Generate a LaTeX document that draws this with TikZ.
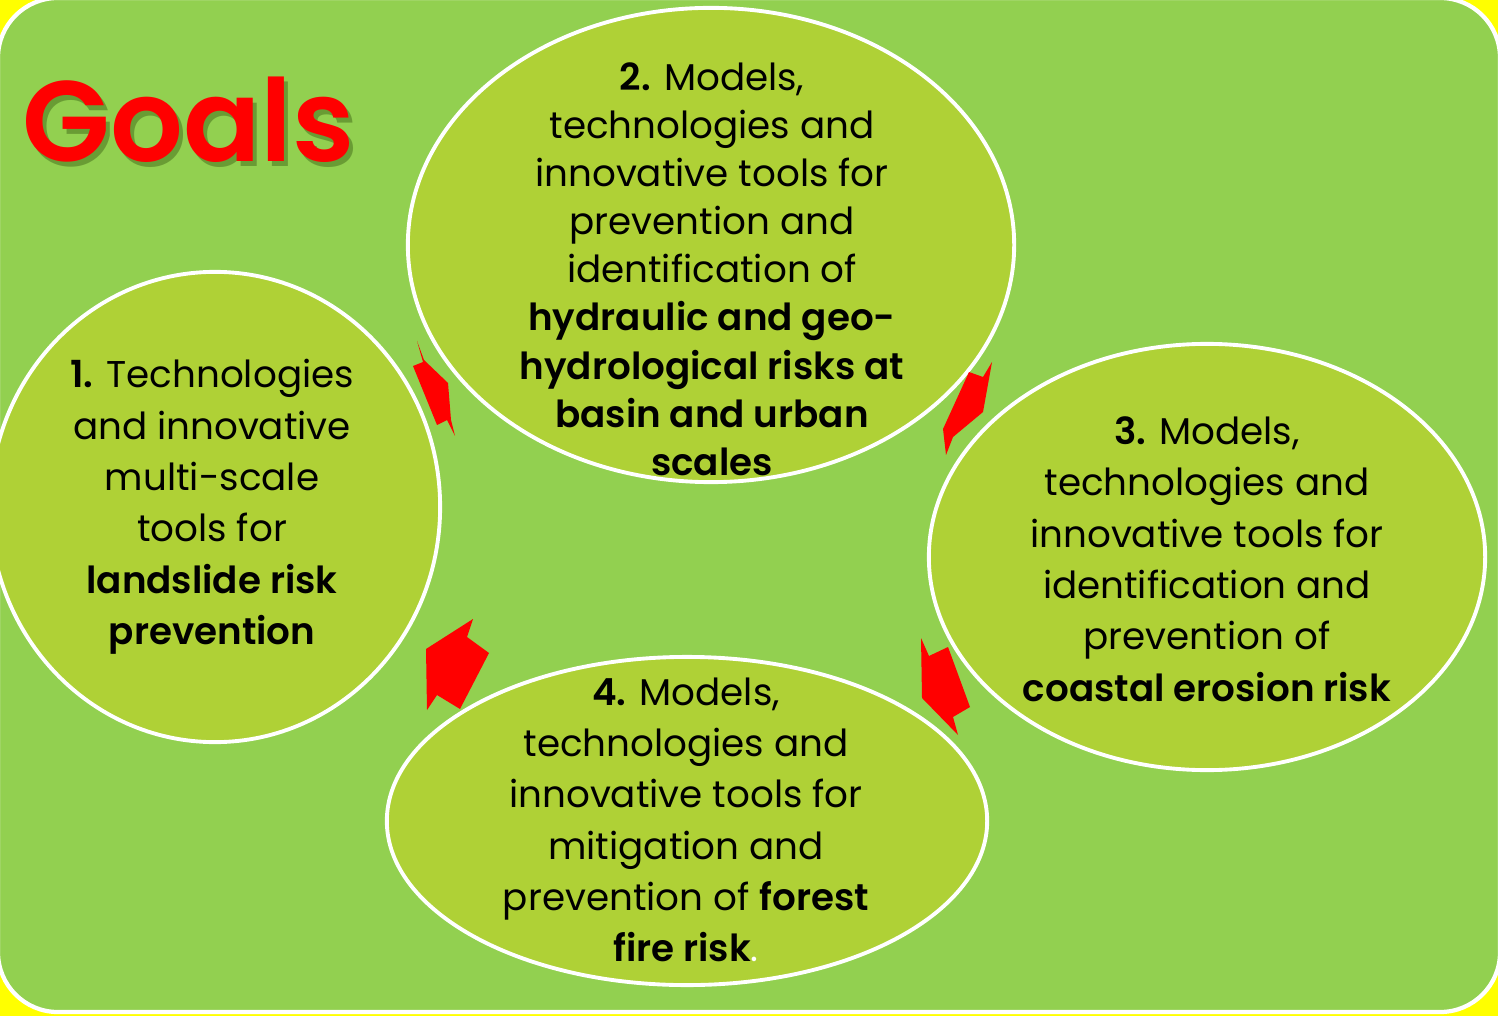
\documentclass[tikz,border=0pt]{standalone}
\usepackage{fontspec}
\setmainfont{Poppins}[BoldFont={Poppins SemiBold}]
\usetikzlibrary{shapes.geometric}

\definecolor{pagegreen}{HTML}{92D050}
\definecolor{ovalgreen}{HTML}{AFD136}
\definecolor{pageyellow}{HTML}{FFFF00}
\definecolor{shadowgreen}{HTML}{4F7A22}

\tikzset{
  goaloval/.style={ellipse, draw=white, line width=1.1pt, fill=ovalgreen, inner sep=0pt},
  goaltext/.style={align=center, font=\fontsize{10.6}{14.6}\selectfont},
  bendarrow/.style={fill=red}
}

\begin{document}
\begin{tikzpicture}[x=0.01cm,y=-0.01cm]
  % Fix the page size
  \useasboundingbox (0,0) rectangle (1498,1016);

  % Yellow page and green panel
  \fill[pageyellow] (0,0) rectangle (1498,1016);
  \draw[white, line width=1.2pt, fill=pagegreen, rounded corners=17pt] (-2,-2) rectangle (1500,1012);

  % Title with its shadow
  \node[text=shadowgreen, opacity=0.6, font=\fontsize{32.5}{36}\bfseries\selectfont, anchor=west] (goalsshadow) at (14,125) {Goals};
  \node[text=red, font=\fontsize{32.5}{36}\bfseries\selectfont, anchor=west] (goals) at (10,120) {Goals};

  % The four ovals
  \node[goaloval, minimum width=4.5cm, minimum height=4.7cm] (g1) at (215,507) {};
  \node[goaloval, minimum width=6.06cm, minimum height=4.74cm] (g2) at (711,245) {};
  \node[goaloval, minimum width=5.56cm, minimum height=4.26cm] (g3) at (1207,557) {};
  \node[goaloval, minimum width=6.0cm, minimum height=3.28cm] (g4) at (687,821) {};

  % Texts in the ovals
  \node[goaltext] (t1) at (212,507) {\textbf{1.} Technologies\\ and innovative\\ multi-scale\\ tools for\\ \textbf{landslide risk}\\ \textbf{prevention}};
  \node[goaltext, font=\fontsize{10.6}{13.7}\selectfont] (t2) at (712,269) {\textbf{2.} Models,\\ technologies and\\ innovative tools for\\ prevention and\\ identification of\\ \textbf{hydraulic and geo-}\\ \textbf{hydrological risks at}\\ \textbf{basin and urban}\\ \textbf{scales}};
  \node[goaltext] (t3) at (1207,559) {\textbf{3.} Models,\\ technologies and\\ innovative tools for\\ identification and\\ prevention of\\ \textbf{coastal erosion risk}};
  \node[goaltext] (t4) at (686,820) {\textbf{4.} Models,\\ technologies and\\ innovative tools for\\ mitigation and\\ prevention of \textbf{forest}\\ \textbf{fire risk}{\color{white}.}};

  % Red arrows between the ovals
  \fill[bendarrow] (417,341) -- (424,360) -- (448,383) -- (451,420) -- (455,436) -- (447,420)
    -- (437,425) -- (413,366) -- (423,362) -- cycle;
  \fill[bendarrow] (992,362) -- (983,412) -- (953,437) -- (946,455) -- (943,429)
    -- (969,372) -- (983,377) -- cycle;
  \fill[bendarrow] (921,638) -- (929,656) -- (948,647) -- (970,707) -- (953,717)
    -- (958,735) -- (922,698) -- cycle;
  \fill[bendarrow] (473,619) -- (467,637) -- (489,653) -- (460,709) -- (437,695)
    -- (427,710) -- (426,649) -- cycle;
\end{tikzpicture}
\end{document}
